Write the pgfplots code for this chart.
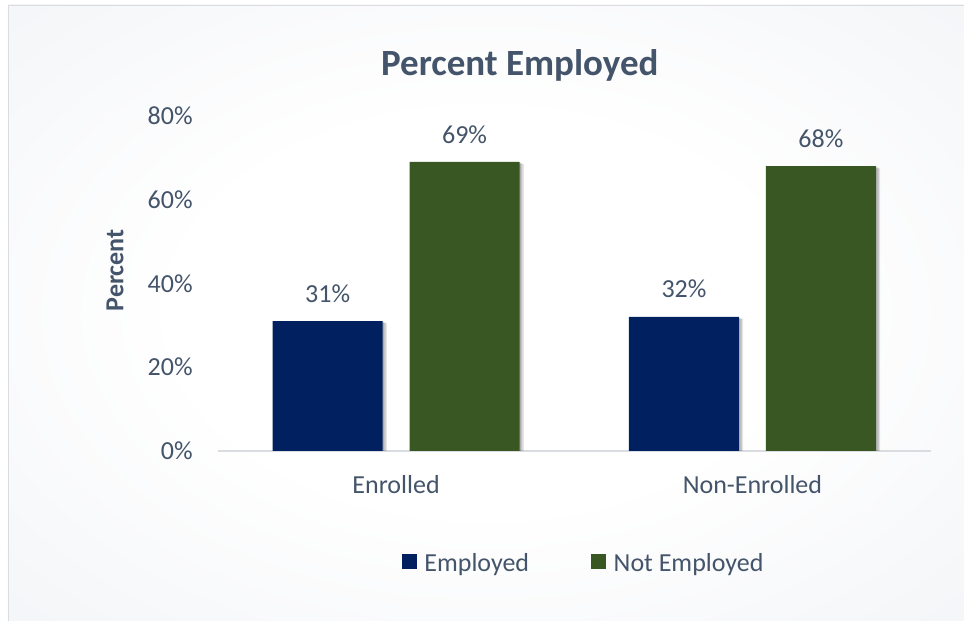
\documentclass[border=0pt]{standalone}
\usepackage{pgfplots}
\pgfplotsset{compat=1.18}
\usepackage{pgfplotstable}
\usepackage{fontspec}
\setmainfont{Carlito}
\definecolor{navy}{HTML}{002060}
\definecolor{dkgreen}{HTML}{385723}
\definecolor{txt}{HTML}{44546A}
\definecolor{axgray}{HTML}{D9DDE2}
\definecolor{bgout}{RGB}{224,228,235}
\pgfdeclareradialshading{bgshade}{\pgfpoint{0bp}{0bp}}{color(0bp)=(white); color(16bp)=(white); color(72bp)=(bgout)}
\pgfplotstableread{
x emp notemp
0 31 69
1 32 68
}\datatable
\tikzset{barshadow/.style={
  preaction={fill=black, opacity=0.10, transform canvas={xshift=3.2pt,yshift=-1.6pt}},
  preaction={fill=black, opacity=0.12, transform canvas={xshift=2.2pt,yshift=-1.1pt}},
  preaction={fill=black, opacity=0.15, transform canvas={xshift=1.1pt,yshift=-0.5pt}}}}
\begin{document}
\begin{tikzpicture}
\fill[white] (0,0) rectangle (723pt,465.75pt);
\shade[shading=bgshade] (6pt,0pt) rectangle (723pt,462pt);
\draw[axgray, line width=0.6pt] (6pt,0pt) -- (6pt,462pt) -- (723pt,462pt);
\node[anchor=base, text=txt, font=\fontsize{27.75}{33}\selectfont\bfseries] at (390pt,408.75pt) {Percent Employed};
\node[anchor=base, rotate=90, text=txt, font=\fontsize{19.5}{23}\selectfont\bfseries] at (92.5pt,262.9pt) {Percent};
\begin{axis}[
  at={(163.5pt,127.5pt)}, anchor=south west,
  scale only axis, width=534.75pt, height=251.25pt,
  xmin=-0.5, xmax=1.5, ymin=0, ymax=80,
  ybar, bar width=82.5pt,
  axis x line*=bottom, axis y line*=left,
  y axis line style={draw=none},
  x axis line style={draw=axgray, line width=1.3pt},
  major tick length=0pt,
  xtick={0,1}, xticklabels={Enrolled,Non-Enrolled},
  ytick={0,20,40,60,80},
  yticklabel={\pgfmathprintnumber{\tick}\%},
  /pgf/number format/assume math mode=true,
  xticklabel style={anchor=base, inner sep=0pt, yshift=-31.7pt, text=txt, font=\fontsize{19.5}{23}\selectfont},
  yticklabel style={anchor=east, inner sep=0pt, xshift=-18.75pt, text=txt, font=\fontsize{19.5}{23}\selectfont},
  nodes near coords={\pgfmathprintnumber{\pgfplotspointmeta}\%},
  every node near coord/.append style={anchor=base, inner sep=0pt, yshift=14.25pt, text=txt, font=\fontsize{19.5}{23}\selectfont},
  legend image code/.code={\fill[#1] (0pt,-4.5pt) rectangle (11.25pt,6.75pt);},
  legend style={at={(0.258,-0.335)}, anchor=west, draw=none, fill=none, inner sep=0pt, outer sep=0pt,
    font=\fontsize{19.5}{23}\selectfont, text=txt, nodes={inner sep=0pt},
    /tikz/every odd column/.append style={column sep=5.75pt},
    /tikz/every even column/.append style={column sep=46.5pt}},
  legend columns=2, legend cell align=left,
]
\addplot[fill=navy, draw=none, barshadow, bar shift=-51.375pt, forget plot] table[x=x, y=emp] {\datatable};
\addplot[fill=dkgreen, draw=none, barshadow, bar shift=51.375pt, forget plot] table[x=x, y=notemp] {\datatable};
\addlegendimage{fill=navy, draw=none}
\addlegendentry{Employed}
\addlegendimage{fill=dkgreen, draw=none}
\addlegendentry{Not Employed}
\end{axis}
\end{tikzpicture}
\end{document}
